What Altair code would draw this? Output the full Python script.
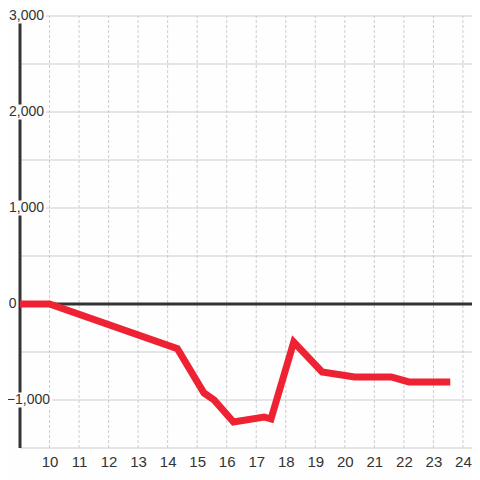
import altair as alt
import pandas as pd

# --- data ---
hours = [9, 10, 14.33, 15.23, 15.57, 16.23, 17.27, 17.5, 18.27, 19.23, 20.33, 21.57, 22.17, 23.57]
values = [0, 0, -465, -927, -1000, -1229, -1177, -1198, -396, -708, -760, -760, -812, -812]
x_ticks = list(range(10, 25))
y_labels = [3000, 2000, 1000, 0, -1000]
y_grid = [-1500, -1000, -500, 0, 500, 1000, 1500, 2000, 2500, 3000]

W = 464
PX_PER_HOUR = 29.53
X_MIN = 9 - 12 / PX_PER_HOUR
X_MAX = X_MIN + W / PX_PER_HOUR
Y_MIN, Y_MAX = -1500, 3000
BG = "#fdfefd"
RED = "#ee2233"
DARK = "#333333"
GRID = "#cccccc"
FONT = "Liberation Sans"

xs = alt.Scale(domain=[X_MIN, X_MAX], nice=False, zero=False)
ys = alt.Scale(domain=[Y_MIN, Y_MAX], nice=False, zero=False)

x_axis = alt.Axis(
    values=x_ticks, grid=False, domain=False, ticks=False, labelFontSize=15,
    labelColor=DARK, labelFont=FONT, labelPadding=6, title=None,
    labelFlush=False, labelOverlap=False,
)

line_df = pd.DataFrame({"h": hours, "v": values})
grid_df = pd.DataFrame({"v": y_grid})
grid_df["x0"] = 9
grid_df["x1"] = X_MAX
vgrid_df = pd.DataFrame({"t": x_ticks})
vgrid_df["y0"] = Y_MIN
vgrid_df["y1"] = Y_MAX
axis_df = pd.DataFrame({"x0": [9], "y0": [Y_MIN], "y1": [Y_MAX], "z": [0], "x1": [X_MAX]})
lab_df = pd.DataFrame({"v": y_labels})


def px_to_x(expr):
    # convert a pixel offset (from the plot's left edge) to an x data value
    return f"{X_MIN} + ({expr}) / {PX_PER_HOUR}"


grid = alt.Chart(grid_df).mark_rule(color=GRID, strokeWidth=1).encode(
    y=alt.Y("v:Q", scale=ys, axis=None),
    x=alt.X("x0:Q", scale=xs, axis=x_axis),
    x2="x1:Q",
)

vgrid = alt.Chart(vgrid_df).mark_rule(color=GRID, strokeWidth=1, strokeDash=[3, 2]).encode(
    x=alt.X("t:Q", scale=xs, axis=x_axis),
    y=alt.Y("y0:Q", scale=ys, axis=None),
    y2="y1:Q",
)

yaxis_line = alt.Chart(axis_df).mark_rule(color=DARK, strokeWidth=3).encode(
    x=alt.X("x0:Q", scale=xs, axis=x_axis),
    y=alt.Y("y0:Q", scale=ys, axis=None),
    y2="y1:Q",
)

zero_line = alt.Chart(axis_df).mark_rule(color=DARK, strokeWidth=3).encode(
    y=alt.Y("z:Q", scale=ys, axis=None),
    x=alt.X("x0:Q", scale=xs, axis=x_axis),
    x2="x1:Q",
)

label_bg = alt.Chart(lab_df).transform_filter("datum.v != 0").transform_calculate(
    lo="datum.v - 78", hi="datum.v + 78",
    bx1=px_to_x("0"), bx2=px_to_x("datum.v < 0 ? 44 : 38"),
).mark_rect(color=BG).encode(
    y=alt.Y("lo:Q", scale=ys, axis=None),
    y2="hi:Q",
    x=alt.X("bx1:Q", scale=xs, axis=x_axis),
    x2="bx2:Q",
)

labels = alt.Chart(lab_df).transform_calculate(
    lx=px_to_x("datum.v == 0 ? 8.5 : (datum.v < 0 ? 42 : 36)")
).mark_text(align="right", baseline="middle", fontSize=14, font=FONT, color=DARK).encode(
    y=alt.Y("v:Q", scale=ys, axis=None),
    x=alt.X("lx:Q", scale=xs, axis=x_axis),
    text=alt.Text("v:Q", format=","),
)

line = alt.Chart(line_df).mark_line(color=RED, strokeWidth=7).encode(
    x=alt.X("h:Q", scale=xs, axis=x_axis),
    y=alt.Y("v:Q", scale=ys, axis=None),
)

chart = alt.layer(grid, vgrid, yaxis_line, zero_line, label_bg, labels, line).properties(
    width=W,
    height=432,
    padding={"left": 0, "top": 8, "right": 0, "bottom": 30},
    autosize=alt.AutoSizeParams(type="none"),
    background=BG,
).configure_view(stroke=None).configure_axis(grid=False)

chart.save("out.html", embed_options={"renderer": "svg", "actions": False})
